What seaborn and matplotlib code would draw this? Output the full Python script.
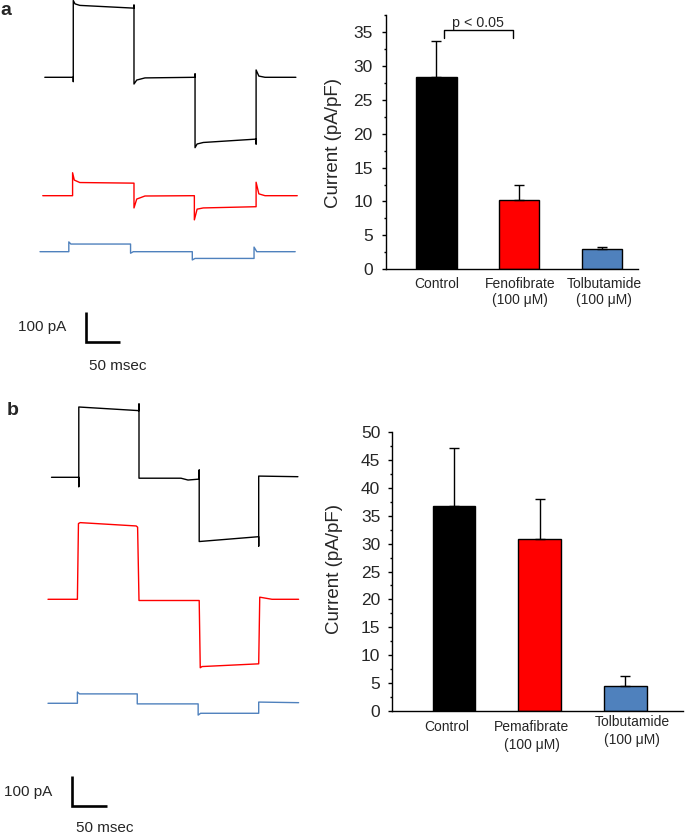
import numpy as np
import matplotlib
matplotlib.use('Agg')
import matplotlib.pyplot as plt
import seaborn as sns
from matplotlib.ticker import MultipleLocator

sns.set_theme(style='white')
plt.rcParams['font.family'] = ['Liberation Sans', 'DejaVu Sans']

# ---------------- data ----------------
# bar charts (mean and upper error, pA/pF)
cats_a = ['Control', 'Fenofibrate', 'Tolbutamide']
subs_a = ['', '(100 μM)', '(100 μM)']
mean_a = [28.4, 10.2, 2.95]
err_a = [5.2, 2.3, 0.35]

cats_b = ['Control', 'Pemafibrate', 'Tolbutamide']
subs_b = ['', '(100 μM)', '(100 μM)']
mean_b = [36.7, 30.9, 4.4]
err_b = [10.5, 7.2, 1.9]

bar_colors = ['#000000', '#FF0000', '#4F81BD']
yticks_a = [0, 5, 10, 15, 20, 25, 30, 35]
yticks_b = [0, 5, 10, 15, 20, 25, 30, 35, 40, 45, 50]
sig_text = 'p < 0.05'

# current traces: time (ms), current (pA, relative to holding level)
ctl_a_t = [7, 48.5, 48.5, 48.5, 51, 58, 137, 137, 137, 141, 153, 226, 226, 226, 229, 238, 315, 315, 315, 319, 328, 373]
ctl_a_i = [0, 0, -14, 251, 240, 235, 226, 236, -22, -9, -2, 0, 11, -230, -218, -213, -202, -218, 24, 4, 0, 0]
fen_a_t = [4, 47.5, 47.5, 50, 58, 137, 137, 141, 153, 225, 225, 229, 238, 315, 315, 319, 328, 375]
fen_a_i = [0, 0, 75, 51, 43, 41, -40, -11, -1, 0, -79, -44, -40, -36, 44, 6, 0, 0]
tol_a_t = [0, 42, 42, 45, 132, 132, 136, 222, 222, 226, 312, 312, 316, 372]
tol_a_i = [0, 0, 32, 25, 25, -5, 0, 0, -27, -22, -22, 15, 0, 0]

ctl_b_t = [5, 44, 44, 44, 130, 130, 130, 190, 200, 216, 216, 216, 301, 301, 301, 357]
ctl_b_i = [0, 0, -31, 232, 220, 242, -3, -3, -9, -6, 24, -212, -196, -227, 4, 2]
pem_b_t = [0, 42, 43.5, 46, 126, 128, 130, 216, 217.5, 220, 301, 302.5, 320, 358]
pem_b_i = [0, 0, 250, 253, 242, 238, -4, -4, -226, -222, -213, 7, 0, 0]
tol_b_t = [0, 42, 42, 45, 127.5, 127.5, 214.5, 214.5, 218, 301, 301, 358]
tol_b_i = [0, 0, 37, 31, 31, -2, -2, -39, -33, -33, 4, 2]

trace_colors = ['#000000', '#FF0000', '#4F81BD']
scale_pa = 100
scale_ms = 50

# ---------------- figure ----------------
W, H = 685, 834
fig = plt.figure(figsize=(W / 100, H / 100), dpi=100)


def px_axes(x0, y0, x1, y1):
    return fig.add_axes([x0 / W, 1 - y1 / H, (x1 - x0) / W, (y1 - y0) / H])


def draw_traces(ax, traces, offsets, xlim, ylim, bar_t, bar_y, lab_pa, lab_ms):
    for (t, i), off, c in zip(traces, offsets, trace_colors):
        sns.lineplot(x=t, y=np.asarray(i, float) + off, sort=False, estimator=None,
                     color=c, linewidth=1.0, ax=ax)
    ax.plot([bar_t, bar_t, bar_t + scale_ms], [bar_y + scale_pa, bar_y, bar_y],
            color='black', lw=1.9, solid_joinstyle='miter', solid_capstyle='butt')
    ax.text(lab_pa[0], lab_pa[1], f'{scale_pa} pA', ha='right', va='center', fontsize=11)
    ax.text(lab_ms[0], lab_ms[1], f'{scale_ms} msec', ha='left', va='center', fontsize=11)
    ax.set_xlim(*xlim)
    ax.set_ylim(*ylim)
    ax.axis('off')


def draw_bars(ax, cats, subs, means, errs, yticks, ylim, xlim, width,
              lab_dx, lab_dy1, lab_dy2, ylab_pos, tick_pad):
    sns.barplot(x=cats, y=means, hue=cats, palette=bar_colors, width=width,
                edgecolor='black', linewidth=1, legend=False, errorbar=None,
                saturation=1, ax=ax)
    xs = np.arange(len(cats))
    ax.errorbar(xs, means, yerr=[np.zeros(len(cats)), errs], fmt='none',
                ecolor='black', elinewidth=1, capsize=3.5, capthick=1, zorder=3)
    ax.set_xlim(*xlim)
    ax.set_ylim(*ylim)
    ax.set_yticks(yticks)
    ax.yaxis.set_minor_locator(MultipleLocator(2.5))
    ax.set_xticks([])
    ax.set_xlabel('')
    ax.set_ylabel('')
    for s in ['top', 'right']:
        ax.spines[s].set_visible(False)
    for s in ['left', 'bottom']:
        ax.spines[s].set_color('black')
        ax.spines[s].set_linewidth(1)
    ax.tick_params(axis='y', which='major', direction='out', length=3, width=1,
                   color='black', labelsize=12.5, pad=tick_pad, left=True)
    ax.tick_params(axis='y', which='minor', direction='out', length=1.2, width=1,
                   color='black', left=True)
    for x, c, s, dx, d1, d2 in zip(xs, cats, subs, lab_dx, lab_dy1, lab_dy2):
        ax.annotate(c, xy=(x, 0), xycoords=('data', 'axes fraction'),
                    xytext=(dx, -d1), textcoords='offset points',
                    ha='center', va='baseline', fontsize=10)
        if s:
            ax.annotate(s, xy=(x, 0), xycoords=('data', 'axes fraction'),
                        xytext=(dx, -d2), textcoords='offset points',
                        ha='center', va='baseline', fontsize=10)
    ax.text(ylab_pos[0], ylab_pos[1], 'Current (pA/pF)', rotation=90,
            transform=ax.transAxes, ha='center', va='center', fontsize=13.5)
    ax.patch.set_alpha(0)


# ---- panel a ----
ax_ta = px_axes(30, 0, 300, 380)
draw_traces(ax_ta, [(ctl_a_t, ctl_a_i), (fen_a_t, fen_a_i), (tol_a_t, tol_a_i)],
            [989.2, 602.3, 419.3], (-14.58, 379.0), (0, 1241.8),
            66.6, 123.2, (37.9, 174.2), (71.4, 45.8))

ax_ba = px_axes(386, 15, 638, 269.3)
draw_bars(ax_ba, cats_a, subs_a, mean_a, err_a, yticks_a, (0, 37.5), (-0.612, 2.442),
          0.485, [0, 0.7, 1.8], [13.2, 13.2, 13.2], [25.2, 25.2, 25.2],
          (-0.210, 0.497), 6.5)
ax_ba.plot([0.095, 0.095, 0.931, 0.931], [34.13, 35.36, 35.36, 34.13],
           color='black', lw=1)
ax_ba.text(0.497, 35.66, sig_text, ha='center', va='baseline', fontsize=10.3)

# ---- panel b ----
ax_tb = px_axes(30, 395, 300, 834)
draw_traces(ax_tb, [(ctl_b_t, ctl_b_i), (pem_b_t, pem_b_i), (tol_b_t, tol_b_i)],
            [1177.2, 774.6, 431.4], (-25.71, 360.0), (0, 1448.8),
            33.9, 92.4, (6.7, 139.6), (40.0, 18.8))

ax_bb = px_axes(391.7, 432.3, 683, 710.7)
draw_bars(ax_bb, cats_b, subs_b, mean_b, err_b, yticks_b, (0, 50), (-0.727, 2.673),
          0.5, [-5.4, -5.8, 5.0], [14.9, 14.9, 11.3], [27.4, 27.4, 24.0],
          (-0.195, 0.51), 5.2)

fig.text(0 / W, 1 - 15 / H, 'a', fontsize=14, fontweight='bold', ha='left', va='baseline')
fig.text(7 / W, 1 - 415 / H, 'b', fontsize=14, fontweight='bold', ha='left', va='baseline')

fig.savefig('out.png', dpi=100)
